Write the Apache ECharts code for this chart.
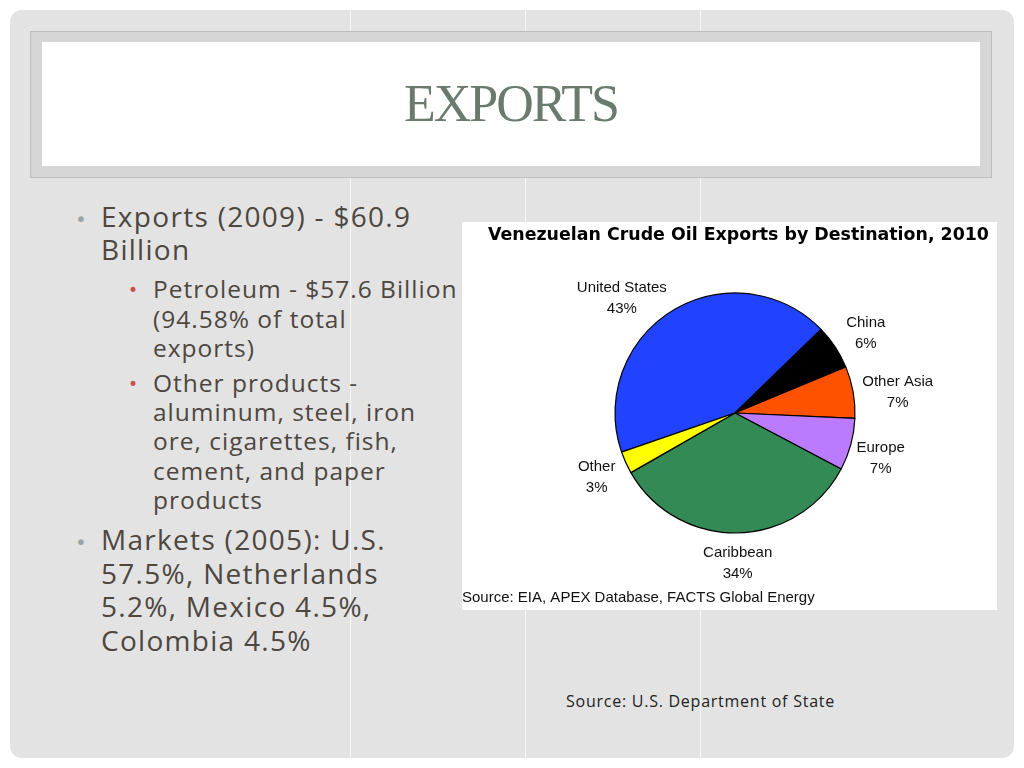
<!DOCTYPE html>
<html>
<head>
<meta charset="utf-8">
<script src="https://cdn.jsdelivr.net/npm/echarts@6/dist/echarts.min.js"></script>
<style>
  html, body { margin:0; padding:0; width:1024px; height:768px; background:#ffffff; overflow:hidden; }
  #slide { position:absolute; left:10px; top:10px; width:1004px; height:748px; background:#e3e3e3; border-radius:12px; overflow:hidden; }
  .vline { position:absolute; top:0; width:1px; height:748px; background:#f6f6f6; }
  #titleOuter { position:absolute; left:20px; top:21px; width:962px; height:147px; background:#d6d6d6; border:1px solid #bdbdbd; box-sizing:border-box; }
  #titleInner { position:absolute; left:32px; top:32px; width:938px; height:124px; background:#ffffff; }
  #titleText { position:absolute; left:32px; top:32px; width:938px; height:124px; line-height:124px; text-align:center; font-family:"Liberation Serif", "DejaVu Serif", serif; font-size:52px; color:#6a7b6e; letter-spacing:-2px; }
  .txt { position:absolute; font-family:"Open Sans", "DejaVu Sans", sans-serif; color:#4c4741; white-space:nowrap; }
  .l1 { font-size:28px; letter-spacing:1.3px; }
  .l2 { font-size:24.5px; letter-spacing:1px; }
  .b1 { position:absolute; color:#9aa5a3; font-family:"DejaVu Sans", sans-serif; }
  .b2 { position:absolute; color:#c8504d; font-family:"DejaVu Sans", sans-serif; }
  #chart { position:absolute; left:462px; top:222px; width:535px; height:388px; background:#ffffff; }
  #src { position:absolute; left:566px; top:690px; font-family:"Open Sans", sans-serif; font-size:16px; letter-spacing:0.75px; color:#222; white-space:nowrap; }
</style>
</head>
<body>
<div id="slide">
  <div class="vline" style="left:340px"></div>
  <div class="vline" style="left:515px"></div>
  <div class="vline" style="left:690px"></div>
  <div id="titleOuter"></div>
  <div id="titleInner"></div>
  <div id="titleText">EXPORTS</div>
</div>

<div class="b1" style="left:75px; top:207px; font-size:20px;">•</div>
<div class="txt l1" style="left:101px; top:200px; line-height:32.5px;">Exports (2009) - $60.9<br>Billion</div>

<div class="b2" style="left:128px; top:280px; font-size:17px;">•</div>
<div class="txt l2" style="left:153px; top:274px; line-height:29.5px;">Petroleum - $57.6 Billion<br>(94.58% of total<br>exports)</div>

<div class="b2" style="left:128px; top:374px; font-size:17px;">•</div>
<div class="txt l2" style="left:153px; top:368px; line-height:29.2px;">Other products -<br>aluminum, steel, iron<br>ore, cigarettes, fish,<br>cement, and paper<br>products</div>

<div class="b1" style="left:75px; top:530px; font-size:20px;">•</div>
<div class="txt l1" style="left:101px; top:523px; line-height:33.6px;">Markets (2005): U.S.<br>57.5%, Netherlands<br>5.2%, Mexico 4.5%,<br>Colombia 4.5%</div>

<div id="chart"></div>
<div id="src">Source: U.S. Department of State</div>

<script>
const categories = ['United States', 'China', 'Other Asia', 'Europe', 'Caribbean', 'Other'];
const shares = [43, 6, 7, 7, 34, 3];
const sliceColors = ['#2143ff', '#000000', '#ff5200', '#bb7bff', '#338a55', '#ffff00'];
const chartTitle = 'Venezuelan Crude Oil Exports by Destination, 2010';
const sourceNote = 'Source: EIA, APEX Database, FACTS Global Energy';

// small nudges so the label blocks sit where the original chart placed them
const labelNudges = [[-33, 16], [3, 5], [12, 6], [-2, 5], [0, -3], [1, 1]];

const pieData = categories.map((name, i) => ({ name: name, value: shares[i], itemStyle: { color: sliceColors[i] } }));
const labelData = categories.map((name, i) => ({ name: name, value: shares[i], label: { offset: labelNudges[i] } }));

const chart = echarts.init(document.getElementById('chart'), null, { renderer: 'canvas' });
chart.setOption({
  animation: false,
  backgroundColor: '#ffffff',
  title: [
    { text: chartTitle, left: 21, top: 0, textStyle: { fontFamily: 'DejaVu Sans', fontWeight: 'bold', fontSize: 17.4, color: '#000' } },
    { text: sourceNote, left: -5, bottom: 0, textStyle: { fontFamily: 'Liberation Sans', fontWeight: 'normal', fontSize: 15, color: '#111' } }
  ],
  series: [
    {
      type: 'pie',
      center: [273, 191],
      radius: [0, 120],
      startAngle: 199,
      clockwise: true,
      silent: true,
      label: { show: false },
      labelLine: { show: false },
      itemStyle: { borderColor: '#000', borderWidth: 1.2 },
      data: pieData
    },
    {
      type: 'pie',
      center: [273, 191],
      radius: [120, 180],
      startAngle: 199,
      clockwise: true,
      silent: true,
      itemStyle: { color: 'rgba(0,0,0,0)', borderWidth: 0 },
      labelLine: { show: false },
      label: {
        show: true,
        position: 'inside',
        formatter: '{b}\n{d}%',
        fontFamily: 'Liberation Sans',
        fontSize: 15,
        lineHeight: 21,
        color: '#111',
        align: 'center'
      },
      data: labelData
    }
  ]
});
</script>
</body>
</html>
